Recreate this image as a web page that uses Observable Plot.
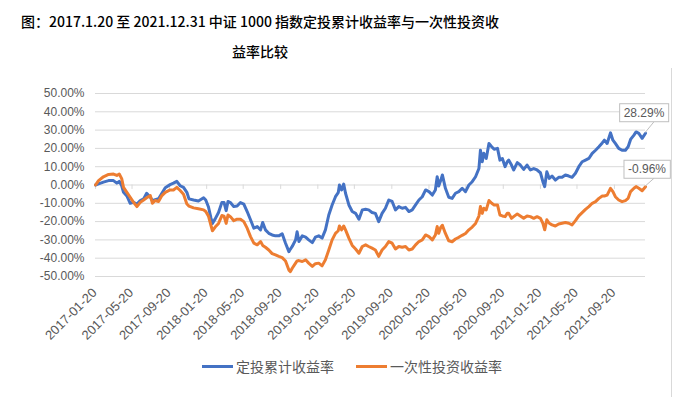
<!DOCTYPE html>
<html>
<head>
<meta charset="utf-8">
<script src="https://cdn.jsdelivr.net/npm/d3@7"></script>
<script src="https://cdn.jsdelivr.net/npm/@observablehq/plot@0.6"></script>
<style>
  html, body { margin: 0; padding: 0; background: #fff; }
  body { width: 700px; height: 397px; position: relative; overflow: hidden; }
  #title { width: 520px; padding-top: 6px; line-height: 30px; text-align: center;
    font-family: "Noto Sans CJK SC", sans-serif; font-size: 14px; font-weight: 500; color: #000; height: 60px; }
  #legend { display: flex; align-items: center; margin-left: 202px; height: 20px; gap: 22px;
    font-family: "Noto Sans CJK SC", sans-serif; font-size: 14px; color: #595959; }
  .item { display: flex; align-items: center; }
  .sw { width: 31px; height: 3px; margin-right: 3px; }
  #border { position: absolute; left: 671px; top: 68px; width: 1px; height: 329px; background: #d9d9d9; }
  #err { position: absolute; left: 0; top: 380px; font-size: 10px; color: red; }
</style>
</head>
<body>
<div id="title">图：2017.1.20 至 2021.12.31 中证 1000 指数定投累计收益率与一次性投资收<br>益率比较</div>
<div id="chart"></div>
<div id="legend">
  <div class="item"><div class="sw" style="background:#4472C4"></div><span>定投累计收益率</span></div>
  <div class="item"><div class="sw" style="background:#ED7D31"></div><span>一次性投资收益率</span></div>
</div>
<div id="border"></div>
<div id="err"></div>
<script>
const seriesNames = ["定投累计收益率", "一次性投资收益率"];
const colors = ["#4472C4", "#ED7D31"];
const yTicks = [50, 40, 30, 20, 10, 0, -10, -20, -30, -40, -50];
const xTickLabels = ["2017-01-20","2017-05-20","2017-09-20","2018-01-20","2018-05-20","2018-09-20","2019-01-20","2019-05-20","2019-09-20","2020-01-20","2020-05-20","2020-09-20","2021-01-20","2021-05-20","2021-09-20"];

const dates = [
"2017-01-20","2017-01-30","2017-02-15","2017-03-04","2017-03-20","2017-03-31","2017-04-08","2017-04-16","2017-04-22","2017-05-03",
"2017-05-14","2017-05-25","2017-06-05","2017-06-16","2017-06-27","2017-07-07","2017-07-19","2017-07-26","2017-08-04","2017-08-15",
"2017-08-26","2017-09-06","2017-09-22","2017-10-03","2017-10-14","2017-10-25","2017-11-05","2017-11-16","2017-11-23","2017-12-08",
"2017-12-24","2018-01-10","2018-01-17","2018-01-26","2018-02-03","2018-02-08","2018-02-17","2018-02-28","2018-03-11","2018-03-18",
"2018-03-25",
"2018-03-31","2018-04-08","2018-04-19","2018-04-30","2018-05-11","2018-05-22","2018-06-02","2018-06-13","2018-06-24","2018-07-05",
"2018-07-16","2018-07-23","2018-08-01","2018-08-12","2018-08-23","2018-09-03","2018-09-14","2018-09-25","2018-10-06","2018-10-17",
"2018-10-22","2018-10-28","2018-11-08","2018-11-13","2018-11-19","2018-11-30","2018-12-11","2018-12-21","2019-01-02","2019-01-12",
"2019-01-23","2019-02-03","2019-02-14","2019-02-25","2019-03-08","2019-03-19","2019-03-28","2019-04-01","2019-04-08","2019-04-15",
"2019-04-21","2019-05-02","2019-05-13","2019-05-24","2019-06-04","2019-06-15","2019-06-26",
"2019-07-06","2019-07-17","2019-07-28","2019-08-08","2019-08-19","2019-08-30","2019-09-10","2019-09-21","2019-10-02","2019-10-13",
"2019-10-24","2019-11-04","2019-11-15","2019-11-26","2019-12-07","2019-12-18","2019-12-29","2020-01-09","2020-01-20","2020-01-31",
"2020-02-10","2020-02-16","2020-02-21","2020-02-28","2020-03-04","2020-03-14","2020-03-25","2020-04-05","2020-04-16","2020-04-27",
"2020-05-08","2020-05-19","2020-05-30","2020-06-10","2020-06-21","2020-07-02","2020-07-07","2020-07-13","2020-07-18","2020-07-26",
"2020-08-04","2020-08-13","2020-08-21","2020-09-01","2020-09-09","2020-09-17","2020-09-26","2020-10-03",
"2020-10-08","2020-10-17","2020-10-24","2020-11-05","2020-11-15","2020-11-26","2020-12-07","2020-12-18","2020-12-29","2021-01-09",
"2021-01-20","2021-01-28","2021-02-03","2021-02-10","2021-02-18","2021-02-27","2021-03-10","2021-03-21","2021-04-01","2021-04-12",
"2021-04-23","2021-05-04","2021-05-15","2021-05-26","2021-06-06","2021-06-17","2021-06-28","2021-07-09","2021-07-20","2021-07-31",
"2021-08-11","2021-08-18","2021-08-27","2021-09-07","2021-09-15","2021-09-23","2021-10-04","2021-10-15","2021-10-26","2021-11-04",
"2021-11-12","2021-11-23","2021-11-30","2021-12-09","2021-12-20","2021-12-31"
];

// 定投累计收益率 (%)
const dcaReturn = [
0, 0.6, 1.6, 2.4, 2.4, 1, 2, -0.4, -4, -6,
-10, -9.5, -10.4, -8.5, -7.6, -4.5, -6.7, -8.5, -8, -7.5,
-4.5, -1.5, 0.2, 1, 2, -0.4, -1.3, -4, -7.6, -8.2,
-8.7, -7, -8.2, -12, -18, -21, -18.5, -15, -9.5, -9.5,
-14,
-9, -9.6, -11.8, -11.5, -9.6, -10.4, -14.5, -19, -23.6, -22.7,
-24.5, -20.5, -24.5, -26.4, -27.3, -27.8, -27.8, -26.7, -31.8, -36.4,
-35, -33.6, -30, -25.5, -30.9, -27.8, -28.5, -30, -31.5, -28.5,
-27.8, -29, -24.5, -16.4, -10.9, -6.4, -4.2, 0, -2.7, 0.5,
-4.5, -10.9, -14.5, -15.5, -18.7, -13.6, -13.3,
-13.6, -15, -15.5, -20, -15.5, -12.7, -8.2, -9, -13.6, -11.8,
-12.7, -12.2, -14.5, -13.6, -10.9, -8.2, -6.4, -2.7, -3.6, -5.5,
-2.7, 4.5, -0.5, 2.7, 5.5, -1.8, -6.7, -7.3, -4.5, -3.6,
-1.8, -3.6, 0, 1.8, 4.5, 9, 19, 12.7, 17.3, 14.5,
22.7, 20.9, 19.5, 20, 13.6, 14.5, 10, 12.7,
13.6, 10.9, 8.2, 12.2, 10.9, 8.5, 10.9, 8.2, 9, 8.2,
6.7, 1.8, -0.9, 7.3, 3.6, 4.9, 2.7, 4.2, 4.2, 5.5,
4.9, 4.2, 6.4, 10, 12.7, 13.6, 14.5, 17.3, 19, 20.9,
23, 24.5, 22.7, 28.5, 24.5, 22.7, 20, 19, 19, 20.9,
24.9, 27.3, 29, 28.2, 25.5, 28.29
];

// 一次性投资收益率 (%)
const lumpReturn = [
0, 2.4, 4.5, 5.8, 6, 5.2, 6, 3.5, -1.3, -4,
-6.7, -9.5, -11.8, -9.5, -8.2, -7, -5.8, -10, -8.5, -9,
-5.8, -4, -2.7, -2.7, -1.3, -3, -5, -10.4, -11.5, -12.5,
-13, -13.6, -14.5, -17, -22, -25, -23, -21, -16.7, -17,
-21,
-16.4, -17.3, -19.5, -18.7, -18.7, -20, -23.6, -28.2, -31.8, -32.7,
-30.9, -33, -34, -35.5, -37.5, -38.2, -39, -39.7, -41.5, -46.5,
-47.3, -45.5, -42.7, -41.5, -41.3, -41.8, -40.9, -42.7, -44.5, -43,
-42.7, -44.2, -40.9, -35.5, -30, -26.4, -25, -22.4, -24.5, -22.4,
-24.5, -29, -33, -35, -37.3, -33.6, -32.7,
-33.6, -34.5, -35.5, -39, -35.5, -33.6, -30.9, -31.8, -35, -33.6,
-34, -33.6, -35.5, -35, -32.7, -30.9, -30, -27.3, -28.2, -30,
-27.3, -22.7, -26.4, -23, -22, -26.5, -30.5, -31, -29.5, -28.6,
-27.5, -26.5, -24.5, -23, -21, -17, -11.8, -15.5, -12.7, -13.6,
-8.5, -10, -10.9, -10.9, -16.4, -16.9, -17.3, -15.5,
-15.5, -18.2, -17.3, -15.8, -16.9, -18.2, -16.9, -17.3, -18.2, -17.3,
-18.2, -20.9, -24.5, -19, -20.9, -21.8, -22.4, -21.3, -20.9, -20.5,
-20.9, -21.8, -19.5, -16.9, -15.1, -13.3, -11.8, -10, -9.1, -7.3,
-6, -6, -5.5, -1.8, -3.6, -6.4, -8.2, -9.1, -8.5, -7.3,
-3.6, -1.8, -0.9, -1.8, -3.1, -0.96
];

const parse = d3.utcParse("%Y-%m-%d");
const blue = dates.map((d, i) => ({date: parse(d), v: dcaReturn[i]}));
const orange = dates.map((d, i) => ({date: parse(d), v: lumpReturn[i]}));
const xTicks = xTickLabels.map(parse);
const pct = v => v.toFixed(2) + "%";
const lastBlue = blue[blue.length - 1], lastOrange = orange[orange.length - 1];

const chart = Plot.plot({
  width: 700,
  height: 290,
  marginTop: 27,
  marginBottom: 80,
  marginLeft: 95,
  marginRight: 55,
  x: {type: "utc", domain: [parse(dates[0]), parse(dates[dates.length - 1])], axis: null},
  y: {domain: [-50, 50], axis: null},
  style: {fontFamily: "'Liberation Sans', Arial, sans-serif", fontSize: "12px", color: "#595959", background: "transparent", overflow: "visible"},
  marks: [
    Plot.ruleY(yTicks, {stroke: "#d9d9d9", strokeWidth: 1}),
    Plot.ruleX(xTicks, {x: d => d, y1: 0, y2: -2.4, stroke: "#d9d9d9"}),
    Plot.text(yTicks, {y: d => d, frameAnchor: "left", dx: -11, textAnchor: "end", text: pct, fill: "#595959", fontSize: 12}),
    Plot.text(xTicks, {x: d => d, frameAnchor: "bottom", rotate: -45, textAnchor: "end", dx: 2, dy: 17,
      text: (d, i) => xTickLabels[i], fill: "#595959", fontSize: 13}),
    Plot.line(blue, {x: "date", y: "v", stroke: colors[0], strokeWidth: 3, strokeLinejoin: "round"}),
    Plot.line(orange, {x: "date", y: "v", stroke: colors[1], strokeWidth: 3, strokeLinejoin: "round"})
  ]
});
document.getElementById("chart").append(chart);

// callout boxes with leader lines for the two end values, placed via the chart's own scales
try {
  const xs = chart.scale("x"), ys = chart.scale("y");
  const callouts = [
    {d: lastBlue, ox: -1, oy: -20},
    {d: lastOrange, ox: 2, oy: -17}
  ];
  const g = d3.select(chart).append("g");
  callouts.forEach(c => {
    const px = xs.apply(c.d.date), py = ys.apply(c.d.v);
    const cx = px + c.ox, cy = py + c.oy;
    const leader = g.append("line");
    const rect = g.append("rect");
    const t = g.append("text").attr("x", cx).attr("y", cy).attr("text-anchor", "middle")
      .attr("dominant-baseline", "central").attr("fill", "#595959").attr("font-size", 12)
      .text(pct(c.d.v));
    const bb = t.node().getBBox();
    const bx = bb.x - 4, by = bb.y - 2, bw = bb.width + 8, bh = bb.height + 4;
    rect.attr("x", bx).attr("y", by).attr("width", bw).attr("height", bh)
      .attr("fill", "#fff").attr("stroke", "#bfbfbf").attr("stroke-width", 1);
    leader.attr("x1", px).attr("y1", py).attr("x2", px + 9).attr("y2", by + bh)
      .attr("stroke", "#bfbfbf").attr("stroke-width", 1);
  });
} catch (e) {
  document.getElementById("err").textContent = String(e);
}
</script>
</body>
</html>
